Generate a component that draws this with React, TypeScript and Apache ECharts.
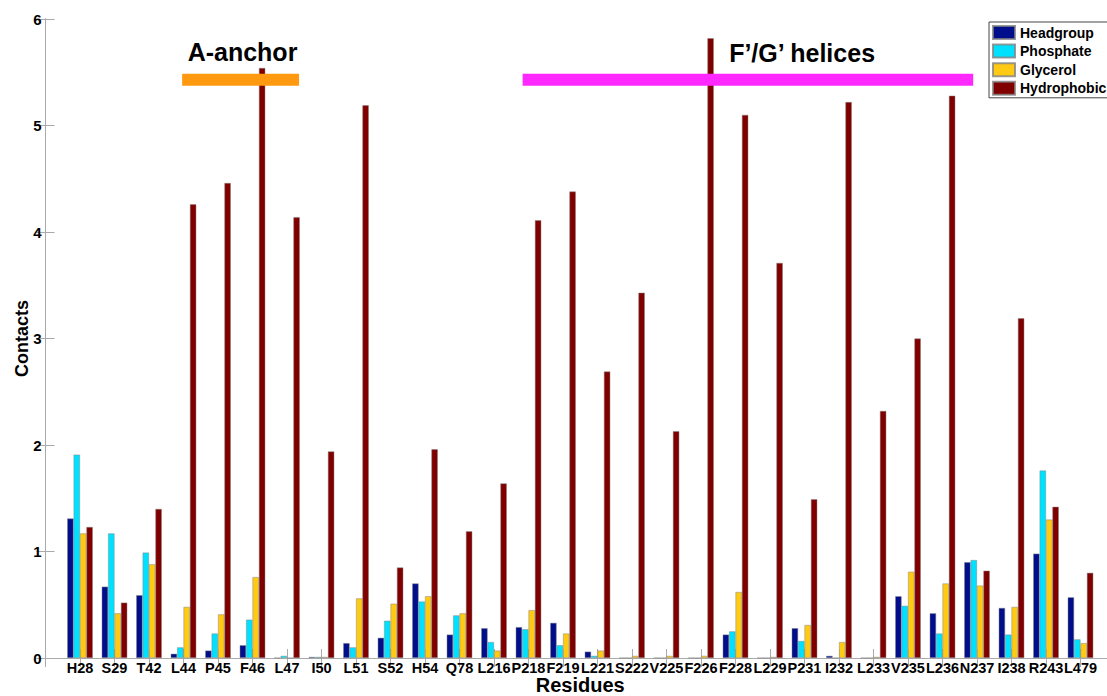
import React, { useEffect, useRef } from "react";
import * as echarts from "echarts";

const categories = [
  "H28", "S29", "T42", "L44", "P45", "F46", "L47", "I50", "L51", "S52",
  "H54", "Q78", "L216", "P218", "F219", "L221", "S222", "V225", "F226", "F228",
  "L229", "P231", "I232", "L233", "V235", "L236", "N237", "I238", "R243", "L479",
];

const headgroup = [
  1.31, 0.67, 0.59, 0.04, 0.07, 0.12, 0.0, 0.01, 0.14, 0.19,
  0.70, 0.22, 0.28, 0.29, 0.33, 0.06, 0.0, 0.0, 0.0, 0.22,
  0.0, 0.28, 0.02, 0.0, 0.58, 0.42, 0.90, 0.47, 0.98, 0.57,
];
const phosphate = [
  1.91, 1.17, 0.99, 0.10, 0.23, 0.36, 0.02, 0.01, 0.10, 0.35,
  0.53, 0.40, 0.15, 0.27, 0.12, 0.02, 0.0, 0.0, 0.0, 0.25,
  0.0, 0.16, 0.0, 0.0, 0.49, 0.23, 0.92, 0.22, 1.76, 0.175,
];
const glycerol = [
  1.17, 0.42, 0.88, 0.48, 0.41, 0.76, 0.0, 0.01, 0.56, 0.51,
  0.58, 0.42, 0.07, 0.45, 0.23, 0.07, 0.02, 0.02, 0.02, 0.62,
  0.01, 0.31, 0.15, 0.01, 0.81, 0.70, 0.68, 0.48, 1.30, 0.14,
];
const hydrophobic = [
  1.23, 0.52, 1.40, 4.26, 4.46, 5.54, 4.14, 1.94, 5.19, 0.85,
  1.96, 1.19, 1.64, 4.11, 4.38, 2.69, 3.43, 2.13, 5.82, 5.10,
  3.71, 1.49, 5.22, 2.32, 3.00, 5.28, 0.82, 3.19, 1.42, 0.80,
];

const seriesNames = ["Headgroup", "Phosphate", "Glycerol", "Hydrophobic"];
const seriesColors = ["#000E8C", "#00E1FF", "#FFCA14", "#800000"];

// annotation bars (x in category positions, 1-based)
const annLabels = ["A-anchor", "F\u2019/G\u2019 helices"];
const annStart = [3.96, 13.83];
const annEnd = [7.35, 26.89];
const annY = [5.43, 5.43];
const annTextX = [5.71, 21.93];
const annTextY = [5.69, 5.68];
const annColors = ["#FF9A10", "#FF28FF"];

const yTicks = { min: 0, max: 6, interval: 1 };
const FONT = "'Liberation Sans', Arial, Helvetica, sans-serif";

export default function App() {
  const ref = useRef<HTMLDivElement>(null);

  useEffect(() => {
    if (!ref.current) return;
    const chart = echarts.init(ref.current, null, { renderer: "svg" });
    const values = [headgroup, phosphate, glycerol, hydrophobic];

    const barSeries = values.map((arr, si) => ({
      name: seriesNames[si],
      type: "bar",
      xAxisIndex: 0,
      yAxisIndex: 0,
      barWidth: 6.4,
      barGap: "0%",
      data: arr.map((v, i) => [i + 1, v]),
      itemStyle: {
        color: seriesColors[si],
        borderColor: "rgba(130,130,130,0.8)",
        borderWidth: 0.6,
      },
      z: 2,
    }));

    const annData = annLabels.map((_, i) => [annStart[i], annEnd[i], annY[i], annTextX[i], annTextY[i]]);

    const option: any = {
      animation: false,
      backgroundColor: "#ffffff",
      textStyle: { fontFamily: FONT },
      grid: {
        left: 45.5,
        top: 19,
        right: -8,
        bottom: 38,
        containLabel: false,
        outerBoundsMode: "none",
      },
      legend: {
        data: seriesNames,
        orient: "vertical",
        left: 989,
        top: 22,
        itemWidth: 22,
        itemHeight: 13,
        itemGap: 3.6,
        padding: [3, 3, 2, 3],
        borderColor: "#444",
        borderWidth: 1,
        borderRadius: 0,
        backgroundColor: "#ffffff",
        icon: "rect",
        textStyle: { fontFamily: FONT, fontWeight: "bold", fontSize: 14, color: "#000" },
        z: 10,
      },
      xAxis: [
        {
          type: "value",
          min: 0,
          max: 31,
          interval: 1,
          position: "bottom",
          name: "Residues",
          nameLocation: "middle",
          nameGap: 17,
          nameMoveOverlap: false,
          nameTextStyle: { fontFamily: FONT, fontWeight: "bold", fontSize: 20, lineHeight: 20, color: "#000" },
          splitLine: { show: false },
          axisLine: { show: true, lineStyle: { color: "#aaa", width: 1 } },
          axisTick: { show: true, inside: true, length: 9, lineStyle: { color: "#aaa" } },
          axisLabel: {
            margin: 2,
            fontFamily: FONT,
            fontWeight: "bold",
            fontSize: 14.5,
            lineHeight: 15,
            color: "#000",
            formatter: (v: number) => (v >= 1 && v <= categories.length ? categories[v - 1] : ""),
          },
        },
        {
          type: "value",
          min: 0,
          max: 31,
          interval: 1,
          position: "top",
          splitLine: { show: false },
          axisLine: { show: true, lineStyle: { color: "#aaa", width: 1 } },
          axisTick: { show: true, inside: true, length: 9, lineStyle: { color: "#aaa" } },
          axisLabel: { show: false },
        },
      ],
      yAxis: [
        {
          type: "value",
          min: yTicks.min,
          max: yTicks.max,
          interval: yTicks.interval,
          position: "left",
          name: "Contacts",
          nameLocation: "middle",
          nameGap: 15,
          nameMoveOverlap: false,
          nameTextStyle: { fontFamily: FONT, fontWeight: "bold", fontSize: 18, color: "#000" },
          splitLine: { show: false },
          axisLine: { show: true, lineStyle: { color: "#aaa", width: 1 } },
          axisTick: { show: true, inside: true, length: 9, lineStyle: { color: "#aaa" } },
          axisLabel: { margin: 4, fontFamily: FONT, fontWeight: "bold", fontSize: 15, color: "#000" },
        },
        {
          type: "value",
          min: yTicks.min,
          max: yTicks.max,
          interval: yTicks.interval,
          position: "right",
          splitLine: { show: false },
          axisLine: { show: true, lineStyle: { color: "#aaa", width: 1 } },
          axisTick: { show: true, inside: true, length: 9, lineStyle: { color: "#aaa" } },
          axisLabel: { show: false },
        },
      ],
      series: [
        ...barSeries,
        {
          type: "custom",
          name: "annotations",
          xAxisIndex: 0,
          yAxisIndex: 0,
          z: 5,
          clip: false,
          encode: { x: [0, 1, 3], y: [2, 4] },
          data: annData,
          renderItem: (params: any, api: any) => {
            const i = params.dataIndex;
            const p1 = api.coord([api.value(0), api.value(2)]);
            const p2 = api.coord([api.value(1), api.value(2)]);
            const pt = api.coord([api.value(3), api.value(4)]);
            return {
              type: "group",
              children: [
                {
                  type: "rect",
                  shape: { x: p1[0], y: p1[1] - 6, width: p2[0] - p1[0], height: 12 },
                  style: { fill: annColors[i] },
                },
                {
                  type: "text",
                  x: pt[0],
                  y: pt[1],
                  style: {
                    text: annLabels[i],
                    fill: "#000",
                    font: `bold 25px ${FONT}`,
                    textAlign: "center",
                    textVerticalAlign: "middle",
                  },
                },
              ],
            };
          },
        },
      ],
    };

    chart.setOption(option);
    return () => chart.dispose();
  }, []);

  return (
    <div
      ref={ref}
      style={{ position: "fixed", left: 0, top: 0, width: 1107, height: 696, background: "#fff" }}
    />
  );
}
